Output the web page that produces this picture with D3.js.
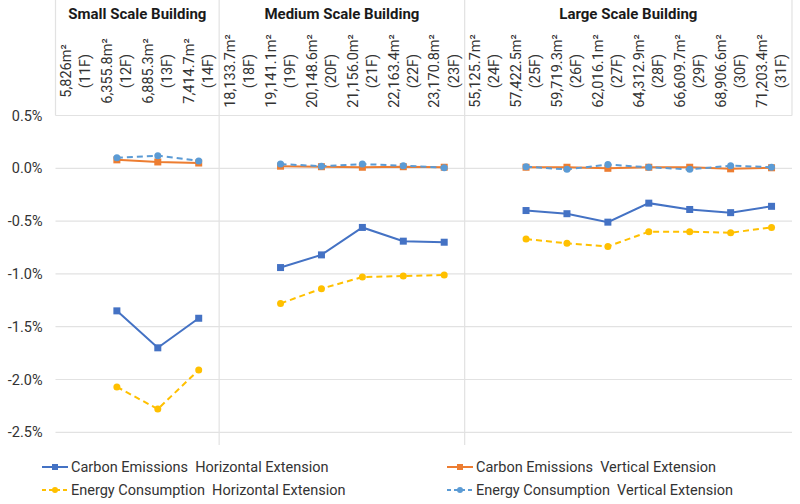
<!DOCTYPE html>
<html><head><meta charset="utf-8">
<script src="https://cdn.jsdelivr.net/npm/d3@7"></script>
<style>body{margin:0;background:#fff;} svg{font-family:Roboto, "Noto Sans", sans-serif;}</style>
</head><body><svg id="c" width="800" height="504"></svg>
<script>
// ---- data ----
const groups = ["Small Scale Building", "Medium Scale Building", "Large Scale Building"];
const groupSizes = [4, 6, 8];
const areas = ["5,826m²","6,355.8m²","6,885.3m²","7,414.7m²",
  "18,133.7m²","19,141.1m²","20,148.6m²","21,156.0m²","22,163.4m²","23,170.8m²",
  "55,125.7m²","57,422.5m²","59,719.3m²","62,016.1m²","64,312.9m²","66,609.7m²","68,906.6m²","71,203.4m²"];
const floors = ["(11F)","(12F)","(13F)","(14F)",
  "(18F)","(19F)","(20F)","(21F)","(22F)","(23F)",
  "(24F)","(25F)","(26F)","(27F)","(28F)","(29F)","(30F)","(31F)"];
const carbonH = [null,-1.35,-1.70,-1.42, null,-0.94,-0.82,-0.56,-0.69,-0.70, null,-0.40,-0.43,-0.51,-0.33,-0.39,-0.42,-0.36];
const carbonV = [null,0.08,0.06,0.05, null,0.02,0.015,0.01,0.015,0.01, null,0.01,0.01,0.0,0.01,0.01,-0.005,0.005];
const energyH = [null,-2.07,-2.28,-1.91, null,-1.28,-1.14,-1.03,-1.02,-1.01, null,-0.67,-0.71,-0.74,-0.60,-0.60,-0.61,-0.56];
const energyV = [null,0.10,0.12,0.07, null,0.04,0.02,0.04,0.025,0.005, null,0.015,-0.01,0.035,0.01,-0.01,0.025,0.01];
const yTicks = [0.5, 0, -0.5, -1.0, -1.5, -2.0, -2.5];
const seriesNames = ["Carbon Emissions  Horizontal Extension", "Carbon Emissions  Vertical Extension",
  "Energy Consumption  Horizontal Extension", "Energy Consumption  Vertical Extension"];

// ---- build ----
(function () {
const series = [
  {name: seriesNames[0], values: carbonH, color: "#4472C4", dash: null, marker: "square"},
  {name: seriesNames[1], values: carbonV, color: "#ED7D31", dash: null, marker: "square"},
  {name: seriesNames[2], values: energyH, color: "#FFC000", dash: "6,4", marker: "circle"},
  {name: seriesNames[3], values: energyV, color: "#5B9BD5", dash: "6,4", marker: "circle"}
];
const svg = d3.select("#c");
const pl = 55.5, pr = 792, pt = 115.5, pb = 432.3;
const x = d3.scaleBand().domain(floors).range([pl, pr]).padding(0);
const y = d3.scaleLinear().domain([-2.5, 0.5]).range([pb, pt]);
const grid = "#e2e2e2";

// gridlines
svg.append("g").selectAll("line").data(yTicks).join("line")
  .attr("x1", pl).attr("x2", pr)
  .attr("y1", d => y(d)).attr("y2", d => y(d))
  .attr("stroke", grid).attr("stroke-width", 1.2);

// group boundaries
let idx = 0;
const bounds = [];
groupSizes.forEach((n, i) => {
  const start = floors[idx], end = floors[idx + n - 1];
  bounds.push({name: groups[i], x0: x(start), x1: x(end) + x.bandwidth()});
  idx += n;
});
svg.append("line").attr("x1", pl).attr("x2", pl).attr("y1", 0).attr("y2", pt).attr("stroke", grid).attr("stroke-width", 1.2);
svg.append("line").attr("x1", pr).attr("x2", pr).attr("y1", 0).attr("y2", pt).attr("stroke", grid).attr("stroke-width", 1.2);
svg.append("g").selectAll("line").data(bounds.slice(1)).join("line")
  .attr("x1", d => d.x0).attr("x2", d => d.x0).attr("y1", 0).attr("y2", 445)
  .attr("stroke", grid).attr("stroke-width", 1.2);
svg.append("g").selectAll("text").data(bounds).join("text")
  .attr("x", d => (d.x0 + d.x1) / 2).attr("y", 19)
  .attr("text-anchor", "middle").attr("font-size", 15).attr("font-weight", "bold")
  .attr("fill", "#1a1a1a").text(d => d.name);

// category labels (rotated, two lines)
const lab = svg.append("g").selectAll("text").data(floors).join("text")
  .attr("transform", (d) => `translate(${x(d) + x.bandwidth() / 2},71) rotate(-90)`)
  .attr("text-anchor", "middle").attr("font-size", 14.5).attr("fill", "#333");
lab.append("tspan").attr("x", 0).attr("dy", "-0.33em").text((d, i) => areas[i]);
lab.append("tspan").attr("x", 0).attr("dy", "1.32em").text(d => d);

// y axis labels
const fmt = v => d3.format(".1f")(v).replace("−", "-") + "%";
const yAxis = d3.axisLeft(y).tickValues(yTicks).tickSize(0).tickPadding(13).tickFormat(fmt);
const ga = svg.append("g").attr("transform", `translate(${pl},0)`).call(yAxis);
ga.select(".domain").remove();
ga.selectAll("text").attr("font-size", 14.5).attr("fill", "#333").attr("font-family", "Roboto, sans-serif");

// lines
const line = d3.line().defined(d => d.v != null).x(d => x(d.c) + x.bandwidth() / 2).y(d => y(d.v));
series.forEach(s => {
  const pts = floors.map((c, i) => ({c, v: s.values[i]}));
  const g = svg.append("g");
  g.append("path").datum(pts).attr("d", line).attr("fill", "none")
    .attr("stroke", s.color).attr("stroke-width", 2).attr("stroke-dasharray", s.dash);
  const valid = pts.filter(d => d.v != null);
  if (s.marker === "square") {
    g.selectAll("rect").data(valid).join("rect")
      .attr("x", d => x(d.c) + x.bandwidth() / 2 - 3.5).attr("y", d => y(d.v) - 3.5)
      .attr("width", 7).attr("height", 7).attr("fill", s.color);
  } else {
    g.selectAll("circle").data(valid).join("circle")
      .attr("cx", d => x(d.c) + x.bandwidth() / 2).attr("cy", d => y(d.v))
      .attr("r", 3.5).attr("fill", s.color);
  }
});

// legend
const legPos = [[42, 467], [447, 467], [42, 490], [447, 490]];
series.forEach((s, i) => {
  const [lx, ly] = legPos[i];
  const g = svg.append("g").attr("transform", `translate(${lx},${ly})`);
  g.append("line").attr("x1", 0).attr("x2", 26).attr("y1", 0).attr("y2", 0)
    .attr("stroke", s.color).attr("stroke-width", 2).attr("stroke-dasharray", s.dash ? "4,3" : null);
  if (s.marker === "square") g.append("rect").attr("x", 10).attr("y", -3).attr("width", 6).attr("height", 6).attr("fill", s.color);
  else g.append("circle").attr("cx", 13).attr("cy", 0).attr("r", 3).attr("fill", s.color);
  g.append("text").attr("x", 29).attr("y", 5).attr("font-size", 14.5).attr("fill", "#333")
    .style("white-space", "pre").attr("xml:space", "preserve").text(s.name);
});
})();
</script></body></html>
